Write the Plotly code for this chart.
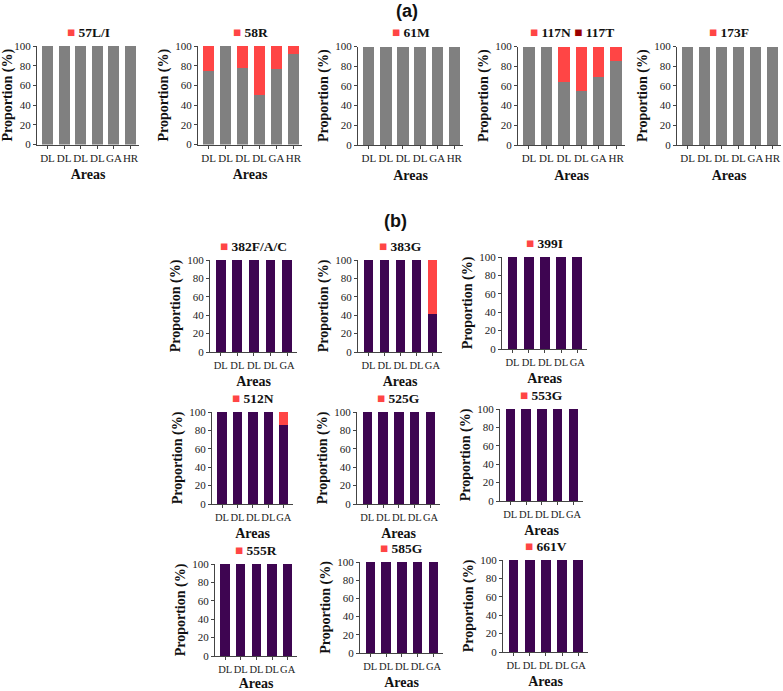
import plotly.graph_objects as go

W, H = 783, 691

# ---------------- data ----------------
areas_a = ["DL", "DL", "DL", "DL", "GA", "HR"]
areas_b = ["DL", "DL", "DL", "DL", "GA"]

# panel (a): wild-type (grey) and mutant (red) proportions (%)
wild_57 = [100, 100, 100, 100, 100, 100]
mut_57LI = [0, 0, 0, 0, 0, 0]
wild_58 = [75, 100, 77.5, 50, 77, 92]
mut_58R = [25, 0, 22.5, 50, 23, 8]
wild_61 = [100, 100, 100, 100, 100, 100]
mut_61M = [0, 0, 0, 0, 0, 0]
wild_117 = [100, 100, 63.5, 55, 69, 85]
mut_117N = [0, 0, 36.5, 45, 31, 15]
mut_117T = [0, 0, 0, 0, 0, 0]
wild_173 = [100, 100, 100, 100, 100, 100]
mut_173F = [0, 0, 0, 0, 0, 0]

# panel (b)
wild_382 = [100, 100, 100, 100, 100]
mut_382FAC = [0, 0, 0, 0, 0]
wild_383 = [100, 100, 100, 100, 41]
mut_383G = [0, 0, 0, 0, 59]
wild_399 = [100, 100, 100, 100, 100]
mut_399I = [0, 0, 0, 0, 0]
wild_512 = [100, 100, 100, 100, 86]
mut_512N = [0, 0, 0, 0, 14]
wild_525 = [100, 100, 100, 100, 100]
mut_525G = [0, 0, 0, 0, 0]
wild_553 = [100, 100, 100, 100, 100]
mut_553G = [0, 0, 0, 0, 0]
wild_555 = [100, 100, 100, 100, 100]
mut_555R = [0, 0, 0, 0, 0]
wild_585 = [100, 100, 100, 100, 100]
mut_585G = [0, 0, 0, 0, 0]
wild_661 = [100, 100, 100, 100, 100]
mut_661V = [0, 0, 0, 0, 0]

y_ticks = [0, 20, 40, 60, 80, 100]

# ---------------- styles ----------------
GREY = "#808080"
RED = "#FF4545"
DARKRED = "#9B0000"
PURPLE = "#3E0551"
AXC = "#444444"
SERIF = "Liberation Serif, Times New Roman, serif"
SANS = "Liberation Sans, Arial, sans-serif"

panels = [
    dict(areas=areas_a, wild=wild_57, wc=GREY, muts=[("57L/I", mut_57LI, RED)]),
    dict(areas=areas_a, wild=wild_58, wc=GREY, muts=[("58R", mut_58R, RED)]),
    dict(areas=areas_a, wild=wild_61, wc=GREY, muts=[("61M", mut_61M, RED)]),
    dict(areas=areas_a, wild=wild_117, wc=GREY,
         muts=[("117N", mut_117N, RED), ("117T", mut_117T, DARKRED)]),
    dict(areas=areas_a, wild=wild_173, wc=GREY, muts=[("173F", mut_173F, RED)]),
    dict(areas=areas_b, wild=wild_382, wc=PURPLE, muts=[("382F/A/C", mut_382FAC, RED)]),
    dict(areas=areas_b, wild=wild_383, wc=PURPLE, muts=[("383G", mut_383G, RED)]),
    dict(areas=areas_b, wild=wild_399, wc=PURPLE, muts=[("399I", mut_399I, RED)]),
    dict(areas=areas_b, wild=wild_512, wc=PURPLE, muts=[("512N", mut_512N, RED)]),
    dict(areas=areas_b, wild=wild_525, wc=PURPLE, muts=[("525G", mut_525G, RED)]),
    dict(areas=areas_b, wild=wild_553, wc=PURPLE, muts=[("553G", mut_553G, RED)]),
    dict(areas=areas_b, wild=wild_555, wc=PURPLE, muts=[("555R", mut_555R, RED)]),
    dict(areas=areas_b, wild=wild_585, wc=PURPLE, muts=[("585G", mut_585G, RED)]),
    dict(areas=areas_b, wild=wild_661, wc=PURPLE, muts=[("661V", mut_661V, RED)]),
]

# plot boxes in page pixels: (x_left, x_right, y_top(100), y_bottom(0))
boxes = [
    (37, 139, 46, 144.5), (198, 302, 46, 144.5), (358, 463, 46.5, 145),
    (518, 625, 46.5, 145), (677, 781, 46.5, 145),
    (210, 297, 260, 352), (358, 442, 260, 352), (502, 587, 257, 349),
    (212, 293, 412, 504), (357, 440, 412, 504), (500, 583, 409, 501),
    (215, 297, 564, 656), (360, 443, 562, 653), (503, 588, 560, 652),
]


def px(xp):
    return xp / W


def py(yp):
    return 1 - yp / H


fig = go.Figure()
layout = {}
annotations = []

for i, (p, box) in enumerate(zip(panels, boxes)):
    n = i + 1
    sfx = "" if n == 1 else str(n)
    xa, ya = "x" + sfx, "y" + sfx
    xs = list(range(len(p["areas"])))
    is_a = len(p["areas"]) == 6
    bw = 0.66 if is_a else 0.6
    fig.add_trace(go.Bar(x=xs, y=p["wild"], marker_color=p["wc"], width=bw,
                         xaxis=xa, yaxis=ya, showlegend=False, name="wild"))
    for (mname, mvals, mcol) in p["muts"]:
        fig.add_trace(go.Bar(x=xs, y=mvals, marker_color=mcol, width=bw,
                             xaxis=xa, yaxis=ya, showlegend=False, name=mname))
    x0, x1, yt, yb = box
    nb = len(xs)
    pad_l = 0.63 if is_a else 0.65
    pad_r = 0.51 if is_a else 0.6
    tick_fs = 11 if is_a else 10.5
    layout["xaxis" + sfx] = dict(
        domain=[px(x0), px(x1)], anchor=ya, range=[-pad_l, nb - 1 + pad_r],
        tickmode="array", tickvals=xs, ticktext=p["areas"], tickangle=0,
        showline=True, linecolor=AXC, linewidth=1, ticks="outside", ticklen=3,
        tickcolor=AXC, tickfont=dict(family=SERIF, size=tick_fs, color="#222"),
        showgrid=False, zeroline=False, fixedrange=True, automargin=False,
        title=dict(text="<b>Areas</b>", font=dict(family=SERIF, size=14, color="#111"),
                   standoff=6),
    )
    layout["yaxis" + sfx] = dict(
        domain=[py(yb), py(yt)], anchor=xa, range=[0, 100],
        tickmode="array", tickvals=y_ticks,
        showline=True, linecolor=AXC, linewidth=1, ticks="outside", ticklen=3,
        tickcolor=AXC, tickfont=dict(family=SERIF, size=11, color="#222"),
        showgrid=False, zeroline=False, fixedrange=True, automargin=False,
        title=dict(text="<b>Proportion (%)</b>", font=dict(family=SERIF, size=14, color="#111"),
                   standoff=3),
    )
    # legend-like header: coloured square + mutation name
    parts = []
    for (mname, mvals, mcol) in p["muts"]:
        parts.append(f"<span style='color:{mcol}'>■</span> {mname}")
    annotations.append(dict(
        text="<b>" + " ".join(parts) + "</b>", xref=xa + " domain", yref=ya + " domain",
        x=0.5, y=1, yanchor="bottom", xanchor="center", yshift=4, showarrow=False,
        font=dict(family=SERIF, size=13.5, color="#111"),
    ))

annotations.append(dict(text="<b>(a)</b>", xref="paper", yref="paper",
                        x=px(407), y=py(11), xanchor="center", yanchor="middle",
                        showarrow=False, font=dict(family=SANS, size=18, color="#111")))
annotations.append(dict(text="<b>(b)</b>", xref="paper", yref="paper",
                        x=px(395), y=py(221), xanchor="center", yanchor="middle",
                        showarrow=False, font=dict(family=SANS, size=18, color="#111")))

fig.update_layout(**layout)
fig.update_layout(
    template="none",
    width=W, height=H, margin=dict(l=0, r=0, t=0, b=0),
    barmode="stack", bargap=0.3,
    paper_bgcolor="white", plot_bgcolor="white",
    annotations=annotations, showlegend=False,
)

fig.write_html(
    "out.html",
    config={"displayModeBar": False},
    default_width=f"{W}px", default_height=f"{H}px",
    post_script="document.body.style.margin='0px';document.body.style.overflow='hidden';",
)
